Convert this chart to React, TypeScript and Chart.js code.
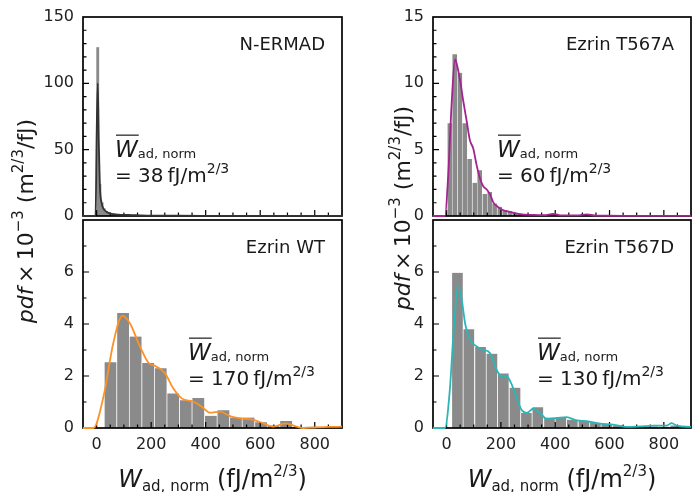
import React, { useEffect, useRef } from 'react';
import { Chart, registerables } from 'chart.js';

Chart.register(...registerables);

const X_MIN = -50;
const X_MAX = 900;
const FONT = '"DejaVu Sans", sans-serif';
const TEXT = '#1a1a1a';

// ---------- N-ERMAD ----------
const nermadBinCenters = [4, 12, 20, 28, 36, 44, 52, 60, 68, 76, 84, 92, 100, 108, 116, 124, 132, 140, 148, 156];
const nermadDensity = [127, 24, 10, 5.5, 3.5, 2.6, 2.0, 1.7, 1.4, 1.2, 1.0, 0.9, 0.8, 1.1, 0.7, 0.6, 0.5, 0.6, 0.4, 0.3];
const nermadKdeX = [-50, -4, 0, 4, 8, 12, 18, 25, 37, 49, 61, 80, 100, 130, 160, 200, 300, 400, 500, 600, 700, 800, 900];
const nermadKdeY = [0, 0, 60, 100, 55, 22, 10, 5.5, 3, 2, 1.4, 1.0, 0.8, 0.7, 0.5, 0.3, 0.2, 0.15, 0.1, 0.08, 0.05, 0.04, 0.03];

// ---------- Ezrin T567A ----------
const t567aBinCenters = [12, 30, 49, 67, 85, 104, 122, 141, 159, 177, 196, 214, 233, 251, 269, 288, 306, 325, 343, 361, 380, 398, 416, 435, 453, 471, 490, 508, 527];
const t567aDensity = [7.0, 12.2, 10.8, 7.0, 4.3, 2.5, 3.45, 1.65, 1.8, 0.95, 0.7, 0.45, 0.35, 0.25, 0.18, 0.12, 0.1, 0.08, 0.06, 0.05, 0.15, 0.1, 0.05, 0.03, 0.04, 0.03, 0.02, 0.1, 0.05];
const t567aKdeX = [-50, -6, 6, 19, 31, 37, 49, 62, 74, 86, 98, 111, 123, 135, 148, 160, 172, 190, 209, 233, 270, 320, 360, 392, 420, 480, 516, 550, 600, 700, 800, 900];
const t567aKdeY = [0, 0, 3.08, 8.6, 11.8, 11.5, 10.3, 8.6, 7.16, 5.7, 5.1, 3.8, 2.84, 2.24, 2.0, 1.63, 1.03, 0.67, 0.43, 0.31, 0.14, 0.08, 0.06, 0.15, 0.05, 0.04, 0.12, 0.03, 0.02, 0.01, 0.01, 0.01];

// ---------- Ezrin WT ----------
const wtBinCenters = [51, 97, 143, 189, 235, 281, 327, 373, 419, 465, 511, 557, 603, 649, 695, 741, 787, 833, 879];
const wtDensity = [2.53, 4.42, 3.52, 2.5, 2.3, 1.33, 1.07, 1.15, 0.47, 0.68, 0.4, 0.4, 0.22, 0.1, 0.27, 0.04, 0.05, 0.03, 0.03];
const wtKdeX = [-50, -12, 25, 61, 94, 122, 159, 190, 220, 251, 281, 312, 355, 386, 416, 453, 489, 526, 569, 612, 648, 691, 734, 758, 800, 850, 900];
const wtKdeY = [0, 0, 1.2, 3.26, 4.31, 4.03, 3.13, 2.51, 2.36, 2.1, 1.53, 1.14, 1.01, 0.82, 0.59, 0.63, 0.46, 0.37, 0.33, 0.18, 0.05, 0.18, 0.05, 0.0, 0.02, 0.04, 0.05];

// ---------- Ezrin T567D ----------
const t567dBinCenters = [40, 82, 125, 167, 209, 252, 294, 336, 379, 421, 463, 506, 548, 590, 632, 675, 717, 759, 801, 844, 886];
const t567dDensity = [5.97, 3.8, 3.12, 2.86, 2.1, 1.55, 0.58, 0.8, 0.4, 0.42, 0.32, 0.27, 0.2, 0.15, 0.1, 0.06, 0.05, 0.06, 0.05, 0.1, 0.04];
const t567dKdeX = [-50, -6, 12, 27, 43, 56, 68, 86, 111, 135, 153, 166, 184, 203, 221, 240, 258, 276, 295, 319, 344, 369, 405, 442, 479, 516, 565, 614, 663, 712, 761, 810, 829, 847, 900];
const t567dKdeY = [0, 0, 1.47, 3.9, 5.47, 4.93, 4.04, 3.4, 3.14, 3.0, 2.95, 2.76, 2.24, 1.99, 1.99, 1.67, 1.15, 0.7, 0.58, 0.74, 0.58, 0.35, 0.38, 0.42, 0.29, 0.26, 0.17, 0.13, 0.04, 0.06, 0.09, 0.09, 0.19, 0.09, 0.04];

const xMajorStep = 200;
const xMinorStep = 50;

type Seg = { t: string; size: number; italic?: boolean; dy?: number; overline?: boolean };

function drawSegs(ctx: CanvasRenderingContext2D, segs: Seg[], x: number, y: number, align: 'left' | 'center' | 'right') {
  const fontOf = (s: Seg) => `${s.italic ? 'italic ' : ''}${s.size}px ${FONT}`;
  let total = 0;
  const widths: number[] = [];
  for (const s of segs) {
    ctx.font = fontOf(s);
    const w = ctx.measureText(s.t).width;
    widths.push(w);
    total += w;
  }
  let cx = align === 'center' ? x - total / 2 : align === 'right' ? x - total : x;
  ctx.textAlign = 'left';
  ctx.textBaseline = 'alphabetic';
  segs.forEach((s, i) => {
    ctx.font = fontOf(s);
    ctx.fillText(s.t, cx, y + (s.dy || 0));
    if (s.overline) {
      ctx.save();
      ctx.strokeStyle = ctx.fillStyle as string;
      ctx.lineWidth = 1.2;
      ctx.beginPath();
      const oy = y - s.size * 0.95;
      ctx.moveTo(cx + 1, oy);
      ctx.lineTo(cx + widths[i] + 1, oy);
      ctx.stroke();
      ctx.restore();
    }
    cx += widths[i];
  });
}

type Area = { left: number; top: number; right: number; bottom: number };
type Panel = {
  name: string;
  meanValue: string;
  binCenters: number[];
  density: number[];
  kdeX: number[];
  kdeY: number[];
  lineColor: string;
  yMax: number;
  yStep: number;
  yMinor: number;
  hideTopLabel: boolean;
  area: Area;
  showX: boolean;
  meanDx: number;
  barEdge: number;
  yTitle?: { x: number; y: number };
};

const panels: Panel[] = [
  {
    name: 'N-ERMAD', meanValue: '38', binCenters: nermadBinCenters, density: nermadDensity,
    kdeX: nermadKdeX, kdeY: nermadKdeY, lineColor: '#333333', yMax: 150, yStep: 50, yMinor: 10,
    hideTopLabel: false, area: { left: 83, top: 8, right: 342, bottom: 216 }, showX: false, meanDx: 32, barEdge: 0,
  },
  {
    name: 'Ezrin T567A', meanValue: '60', binCenters: t567aBinCenters, density: t567aDensity,
    kdeX: t567aKdeX, kdeY: t567aKdeY, lineColor: '#a3238f', yMax: 15, yStep: 5, yMinor: 1,
    hideTopLabel: false, area: { left: 433, top: 8, right: 691, bottom: 216 }, showX: false, meanDx: 64, barEdge: 0.5,
  },
  {
    name: 'Ezrin WT', meanValue: '170', binCenters: wtBinCenters, density: wtDensity,
    kdeX: wtKdeX, kdeY: wtKdeY, lineColor: '#ff9124', yMax: 8, yStep: 2, yMinor: 1,
    hideTopLabel: true, area: { left: 83, top: 220, right: 342, bottom: 428 }, showX: true, meanDx: 105, barEdge: 0.7,
    yTitle: { x: 33, y: 221 },
  },
  {
    name: 'Ezrin T567D', meanValue: '130', binCenters: t567dBinCenters, density: t567dDensity,
    kdeX: t567dKdeX, kdeY: t567dKdeY, lineColor: '#2bb7b7', yMax: 8, yStep: 2, yMinor: 1,
    hideTopLabel: true, area: { left: 433, top: 220, right: 691, bottom: 428 }, showX: true, meanDx: 104, barEdge: 0.7,
    yTitle: { x: 410, y: 208 },
  },
];

const W = 693;
const H = 492;
const Y_AXIS_W = 40;
const X_AXIS_H = 30;

function makeConfig(p: Panel): any {
  const framePlugin = {
    id: 'frame' + p.name.replace(/\W/g, ''),
    beforeDatasetDraw(chart: any, args: any) {
      if (args.index !== 0) return;
      const { ctx, chartArea: a, scales } = chart;
      const xs = scales.x;
      const ys = scales.y;
      ctx.save();
      ctx.strokeStyle = '#000';
      ctx.lineWidth = 1.2;
      ctx.beginPath();
      for (let v = 0; v <= X_MAX; v += xMinorStep) {
        const px = xs.getPixelForValue(v);
        if (px <= a.left + 1 || px >= a.right - 1) continue;
        const len = v % xMajorStep === 0 ? 6 : 3.5;
        ctx.moveTo(px, a.bottom);
        ctx.lineTo(px, a.bottom - len);
      }
      for (let v = 0; v <= p.yMax; v += p.yMinor) {
        const py = ys.getPixelForValue(v);
        if (py <= a.top + 1 || py >= a.bottom - 1) continue;
        const len = v % p.yStep === 0 ? 6 : 3.5;
        ctx.moveTo(a.left, py);
        ctx.lineTo(a.left + len, py);
      }
      ctx.stroke();
      ctx.lineWidth = 1.7;
      ctx.strokeRect(a.left, a.top, a.right - a.left, a.bottom - a.top);
      ctx.restore();
    },
    afterDraw(chart: any) {
      const { ctx, chartArea: a } = chart;
      ctx.save();
      ctx.fillStyle = TEXT;
      // panel name
      ctx.font = `18px ${FONT}`;
      ctx.textAlign = 'right';
      ctx.textBaseline = 'middle';
      ctx.fillText(p.name, a.right - 17, a.top + 28);
      // mean label
      const mx = a.left + p.meanDx;
      drawSegs(ctx, [
        { t: 'W', size: 23, italic: true, overline: true },
        { t: 'ad, norm', size: 13, dy: 1 },
      ], mx, a.top + 140, 'left');
      drawSegs(ctx, [
        { t: '= ' + p.meanValue + '\u2009fJ/m', size: 20 },
        { t: '2/3', size: 14, dy: -9 },
      ], mx, a.top + 165, 'left');
      // x-axis title
      if (p.showX) {
        drawSegs(ctx, [
          { t: 'W', size: 24, italic: true },
          { t: 'ad, norm', size: 15, dy: 4 },
          { t: ' (fJ/m', size: 24 },
          { t: '2/3', size: 15, dy: -11 },
          { t: ')', size: 24 },
        ], (a.left + a.right) / 2, 487, 'center');
      }
      // y-axis title
      if (p.yTitle) {
        ctx.translate(p.yTitle.x, p.yTitle.y);
        ctx.rotate(-Math.PI / 2);
        drawSegs(ctx, [
          { t: 'pdf', size: 22, italic: true },
          { t: '\u2009×\u200910', size: 22 },
          { t: '\u22123', size: 15, dy: -10 },
          { t: ' (m', size: 22 },
          { t: '2/3', size: 15, dy: -10 },
          { t: '/fJ)', size: 22 },
        ], 0, 0, 'center');
      }
      ctx.restore();
    },
  };

  return {
    type: 'bar',
    data: {
      datasets: [
        {
          type: 'line',
          data: p.kdeX.map((x, i) => ({ x, y: p.kdeY[i] })),
          borderColor: p.lineColor,
          borderWidth: 1.8,
          pointRadius: 0,
          fill: false,
          cubicInterpolationMode: 'monotone',
          clip: false,
          order: 0,
        },
        {
          type: 'bar',
          data: p.binCenters.map((x, i) => ({ x, y: p.density[i] })),
          backgroundColor: '#8a8a8a',
          borderColor: '#ffffff',
          borderWidth: { left: p.barEdge, right: p.barEdge, top: 0, bottom: 0 },
          borderSkipped: 'start',
          barPercentage: 1,
          categoryPercentage: 1,
          order: 1,
        },
      ],
    },
    options: {
      animation: false,
      responsive: false,
      events: [],
      layout: {
        padding: {
          left: p.area.left - Y_AXIS_W,
          right: W - p.area.right,
          top: p.area.top,
          bottom: H - p.area.bottom - (p.showX ? X_AXIS_H : 0),
        },
      },
      plugins: { legend: { display: false }, tooltip: { enabled: false } },
      scales: {
        x: {
          type: 'linear',
          min: X_MIN,
          max: X_MAX,
          offset: false,
          display: p.showX,
          grid: { display: false, drawTicks: false },
          border: { display: false },
          ticks: {
            stepSize: xMajorStep,
            includeBounds: false,
            autoSkip: false,
            maxRotation: 0,
            padding: 9,
            color: '#222',
            font: { family: FONT, size: 16, lineHeight: 1 },
          },
          afterFit: (s: any) => {
            if (p.showX) s.height = X_AXIS_H;
          },
        },
        y: {
          type: 'linear',
          min: 0,
          max: p.yMax,
          grid: { display: false, drawTicks: false },
          border: { display: false },
          ticks: {
            stepSize: p.yStep,
            autoSkip: false,
            padding: 9,
            color: '#222',
            font: { family: FONT, size: 16, lineHeight: 1 },
            callback: (v: any) => (p.hideTopLabel && v === p.yMax ? '' : String(v)),
          },
          afterFit: (s: any) => {
            s.width = Y_AXIS_W;
          },
        },
      },
    },
    plugins: [framePlugin],
  };
}

function PanelChart({ panel }: { panel: Panel }) {
  const ref = useRef<HTMLCanvasElement>(null);
  useEffect(() => {
    if (!ref.current) return;
    const chart = new Chart(ref.current, makeConfig(panel));
    return () => chart.destroy();
  }, [panel]);
  return (
    <canvas
      ref={ref}
      width={W}
      height={H}
      style={{ position: 'absolute', left: 0, top: 0, width: W, height: H, pointerEvents: 'none' }}
    />
  );
}

export default function App() {
  return (
    <div style={{ position: 'absolute', left: 0, top: 0, width: W, height: H, background: '#fff' }}>
      {panels.map((p) => (
        <PanelChart key={p.name} panel={p} />
      ))}
    </div>
  );
}
